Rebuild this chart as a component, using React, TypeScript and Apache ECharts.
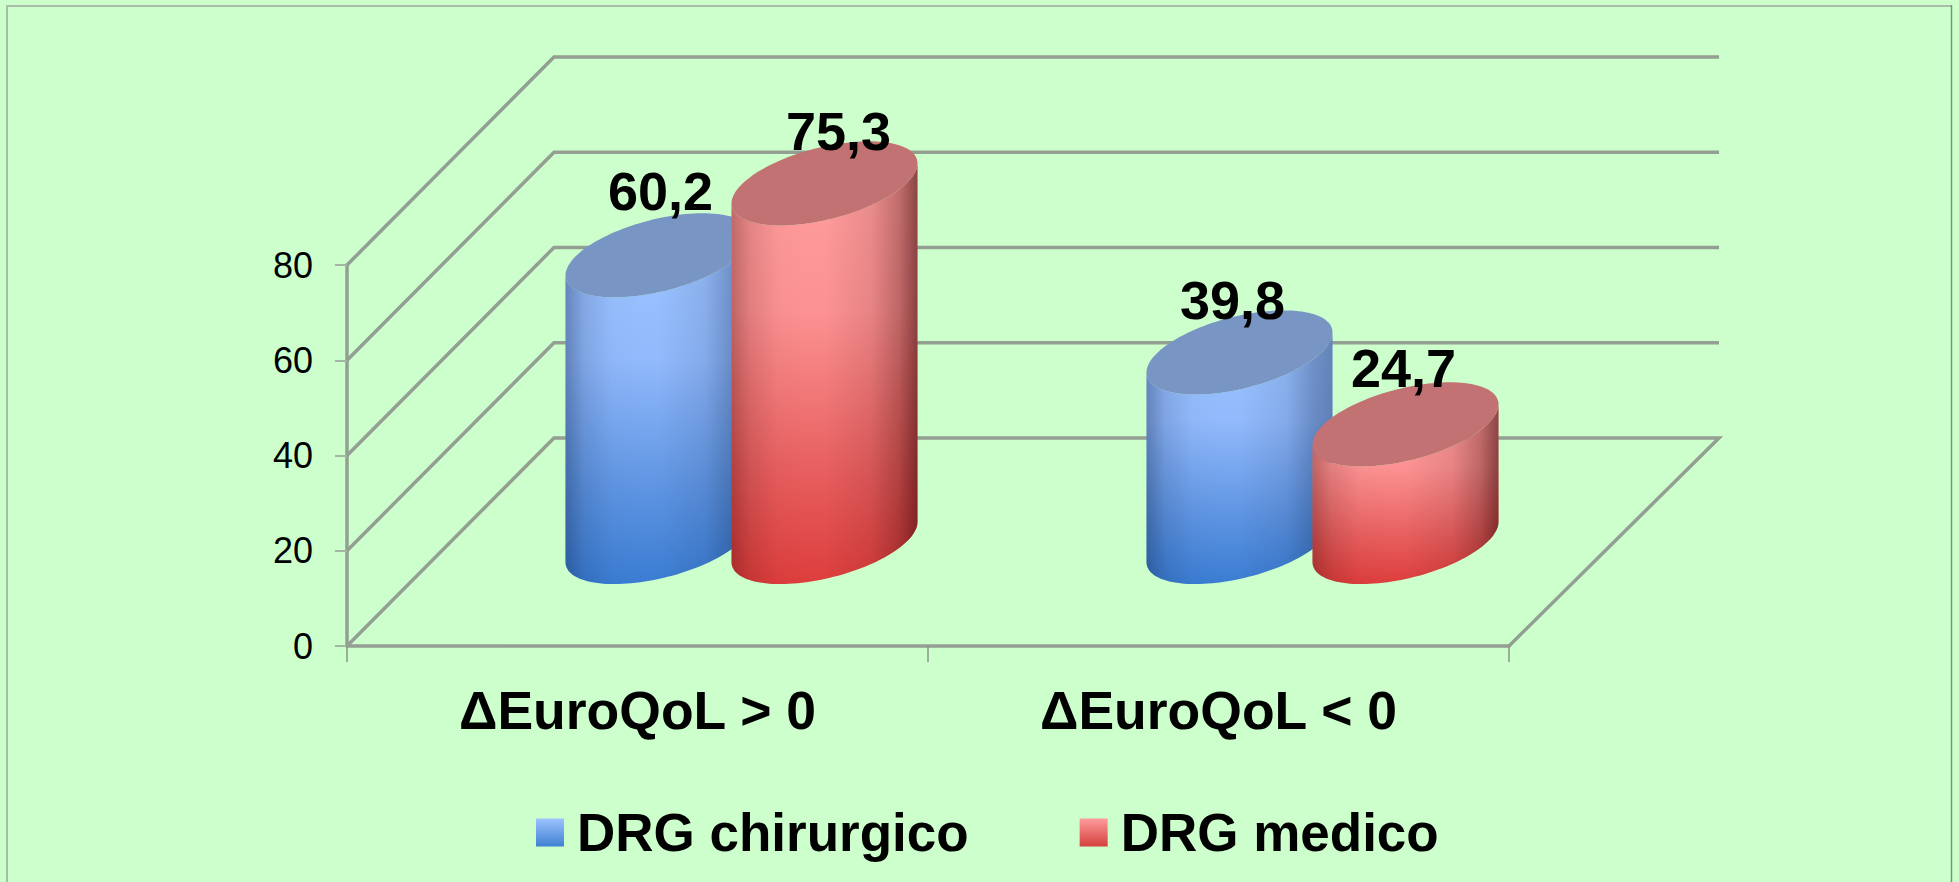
import React, { useEffect, useRef } from "react";
import * as echarts from "echarts";

const categories = ["ΔEuroQoL > 0", "ΔEuroQoL < 0"];
const surgical = [60.2, 39.8];
const medical = [75.3, 24.7];
const yTicks = [0, 20, 40, 60, 80];
const seriesNames = ["DRG chirurgico", "DRG medico"];

const FONT = '"Liberation Sans", Arial, sans-serif';
const DEPTH_X = 207;
const DEPTH_Y = 208;
const BACK_EXTRA = 3;
const HALF_W = 93;
const OFFSET = 83;
const ELL_B = 37;
const ELL_K = 20;
const AXIS = "#929f92";

const blueBody = [
  { offset: 0, color: "#9dc3ff" },
  { offset: 0.35, color: "#92bafc" },
  { offset: 0.72, color: "#5f95e2" },
  { offset: 1, color: "#3a7cd2" },
];
const redBody = [
  { offset: 0, color: "#ff9e9e" },
  { offset: 0.35, color: "#fc9292" },
  { offset: 0.72, color: "#e86060" },
  { offset: 1, color: "#dc3d3c" },
];
const blueKey = [
  { offset: 0, color: "#9dc3ff" },
  { offset: 1, color: "#3f80d2" },
];
const redKey = [
  { offset: 0, color: "#ff9c9c" },
  { offset: 1, color: "#d4403c" },
];
const palette = [
  { body: blueBody, top: "#7895c4", edgeL: "rgba(10,30,70,0.36)", edgeR: "rgba(10,30,70,0.38)" },
  { body: redBody, top: "#c27272", edgeL: "rgba(60,0,0,0.32)", edgeR: "rgba(50,0,0,0.56)" },
];
// Nudges of the value labels relative to the cylinder tops, [series][category]
const labelNudge = [
  [[2, -64], [-7, -52]],
  [[14, -52], [-2, -56]],
];

function ellipsePoint(cx: number, cy: number, t: number): number[] {
  return [cx + HALF_W * Math.cos(t), cy - ELL_K * Math.cos(t) - ELL_B * Math.sin(t)];
}

function withAlpha(rgba: string, a: number): string {
  return rgba.replace(/[\d.]+\)$/, `${a})`);
}

function cylinderItem(seriesIdx: number) {
  return (params: any, api: any) => {
    const cat = api.value(0);
    const val = api.value(1);
    const base = api.coord([cat, 0]);
    const head = api.coord([cat, val]);
    const sign = seriesIdx === 0 ? -1 : 1;
    const cx = base[0] + (DEPTH_X + 1) / 2 + sign * OFFSET;
    const yBot = base[1] - DEPTH_Y / 2;
    const yTop = head[1] - DEPTH_Y / 2;
    const body: number[][] = [];
    const topEll: number[][] = [];
    const N = 64;
    for (let i = 0; i <= N; i++) {
      body.push(ellipsePoint(cx, yBot, Math.PI + (Math.PI * i) / N));
    }
    for (let i = N; i >= 0; i--) {
      body.push(ellipsePoint(cx, yTop, Math.PI + (Math.PI * i) / N));
    }
    for (let i = 0; i < N * 2; i++) {
      topEll.push(ellipsePoint(cx, yTop, (Math.PI * i) / N));
    }
    const p = palette[seriesIdx];
    const text = val.toFixed(1).replace(".", ",");
    const nudge = labelNudge[seriesIdx][cat];
    return {
      type: "group",
      children: [
        {
          type: "polygon",
          shape: { points: body },
          style: {
            fill: { type: "linear", x: 0, y: 0, x2: 0, y2: 1, colorStops: p.body },
          },
        },
        {
          type: "polygon",
          shape: { points: body },
          style: {
            fill: {
              type: "linear",
              x: 0,
              y: 0,
              x2: 1,
              y2: 0,
              colorStops: [
                { offset: 0, color: p.edgeL },
                { offset: 0.1, color: withAlpha(p.edgeL, 0.14) },
                { offset: 0.25, color: withAlpha(p.edgeL, 0.02) },
                { offset: 0.4, color: withAlpha(p.edgeL, 0) },
                { offset: 0.5, color: withAlpha(p.edgeR, 0) },
                { offset: 0.75, color: withAlpha(p.edgeR, 0.1) },
                { offset: 0.9, color: withAlpha(p.edgeR, 0.3) },
                { offset: 1, color: p.edgeR },
              ],
            },
          },
        },
        { type: "polygon", shape: { points: topEll }, style: { fill: p.top } },
        {
          type: "text",
          z2: 50,
          style: {
            text,
            x: cx + nudge[0],
            y: yTop + nudge[1],
            align: "center",
            verticalAlign: "middle",
            fill: "#000",
            font: `bold 54px ${FONT}`,
          },
        },
      ],
    };
  };
}

function wallItem(params: any, api: any) {
  const v = api.value(0);
  const { x, width } = params.coordSys;
  const y = api.coord([0, v])[1];
  const pts = [
    [x, y],
    [x + DEPTH_X, y - DEPTH_Y],
    [x + width + DEPTH_X + BACK_EXTRA, y - DEPTH_Y],
  ];
  if (v === 0) pts.push([x + width, y]);
  return {
    type: "polyline",
    shape: { points: pts },
    style: { stroke: AXIS, lineWidth: 3.5, fill: "none" },
  };
}

export default function App() {
  const ref = useRef<HTMLDivElement>(null);
  useEffect(() => {
    const chart = echarts.init(ref.current!, null, { renderer: "svg" });
    const legendFill = (stops: any) => ({ type: "linear", x: 0, y: 0, x2: 0, y2: 1, colorStops: stops });
    chart.setOption({
      animation: false,
      backgroundColor: "#ccffcc",
      textStyle: { fontFamily: FONT },
      grid: { left: 347, top: 265, width: 1162, height: 381, containLabel: false },
      xAxis: {
        type: "category",
        data: categories,
        axisLine: { lineStyle: { color: AXIS, width: 3.5 } },
        axisTick: { show: true, length: 16, lineStyle: { color: "#8a948a", width: 1.5 } },
        axisLabel: { color: "#000", fontSize: 53.5, fontWeight: "bold", fontFamily: FONT, margin: 37 },
        splitLine: { show: false },
      },
      yAxis: {
        type: "value",
        min: 0,
        max: 80,
        interval: 20,
        axisLine: { show: true, lineStyle: { color: AXIS, width: 3.5 } },
        axisTick: { show: true, length: 12, lineStyle: { color: "#a3b5a3", width: 2 } },
        axisLabel: { color: "#000", fontSize: 36, fontFamily: FONT, margin: 34 },
        splitLine: { show: false },
      },
      legend: {
        left: 536,
        top: 806,
        padding: 0,
        itemWidth: 28,
        itemHeight: 28,
        itemGap: 111,
        icon: "rect",
        selectedMode: false,
        data: [
          { name: seriesNames[0], itemStyle: { color: legendFill(blueKey) } },
          { name: seriesNames[1], itemStyle: { color: legendFill(redKey) } },
        ],
        textStyle: {
          color: "#000",
          fontSize: 53,
          fontWeight: "bold",
          fontFamily: FONT,
          padding: [0, 0, 0, 8],
        },
      },
      graphic: [
        { type: "line", silent: true, shape: { x1: 7, y1: 6, x2: 1951, y2: 6 }, style: { stroke: "#a8bca8", lineWidth: 2 } },
        { type: "line", silent: true, shape: { x1: 7, y1: 5, x2: 7, y2: 882 }, style: { stroke: "#a8bca8", lineWidth: 2 } },
        { type: "line", silent: true, shape: { x1: 1951.5, y1: 5, x2: 1951.5, y2: 882 }, style: { stroke: "#7f8f7f", lineWidth: 1.5 } },
      ],
      series: [
        {
          type: "custom",
          name: "walls",
          silent: true,
          z: 1,
          coordinateSystem: "cartesian2d",
          encode: { y: 0 },
          data: yTicks.map((v) => [v]),
          renderItem: wallItem,
        },
        {
          type: "custom",
          name: seriesNames[0],
          z: 3,
          coordinateSystem: "cartesian2d",
          encode: { x: 0, y: 1 },
          data: surgical.map((v, i) => [i, v]),
          renderItem: cylinderItem(0),
        },
        {
          type: "custom",
          name: seriesNames[1],
          z: 4,
          coordinateSystem: "cartesian2d",
          encode: { x: 0, y: 1 },
          data: medical.map((v, i) => [i, v]),
          renderItem: cylinderItem(1),
        },
      ],
    });
    return () => chart.dispose();
  }, []);
  return <div ref={ref} style={{ position: "absolute", left: 0, top: 0, width: 1959, height: 882 }} />;
}
